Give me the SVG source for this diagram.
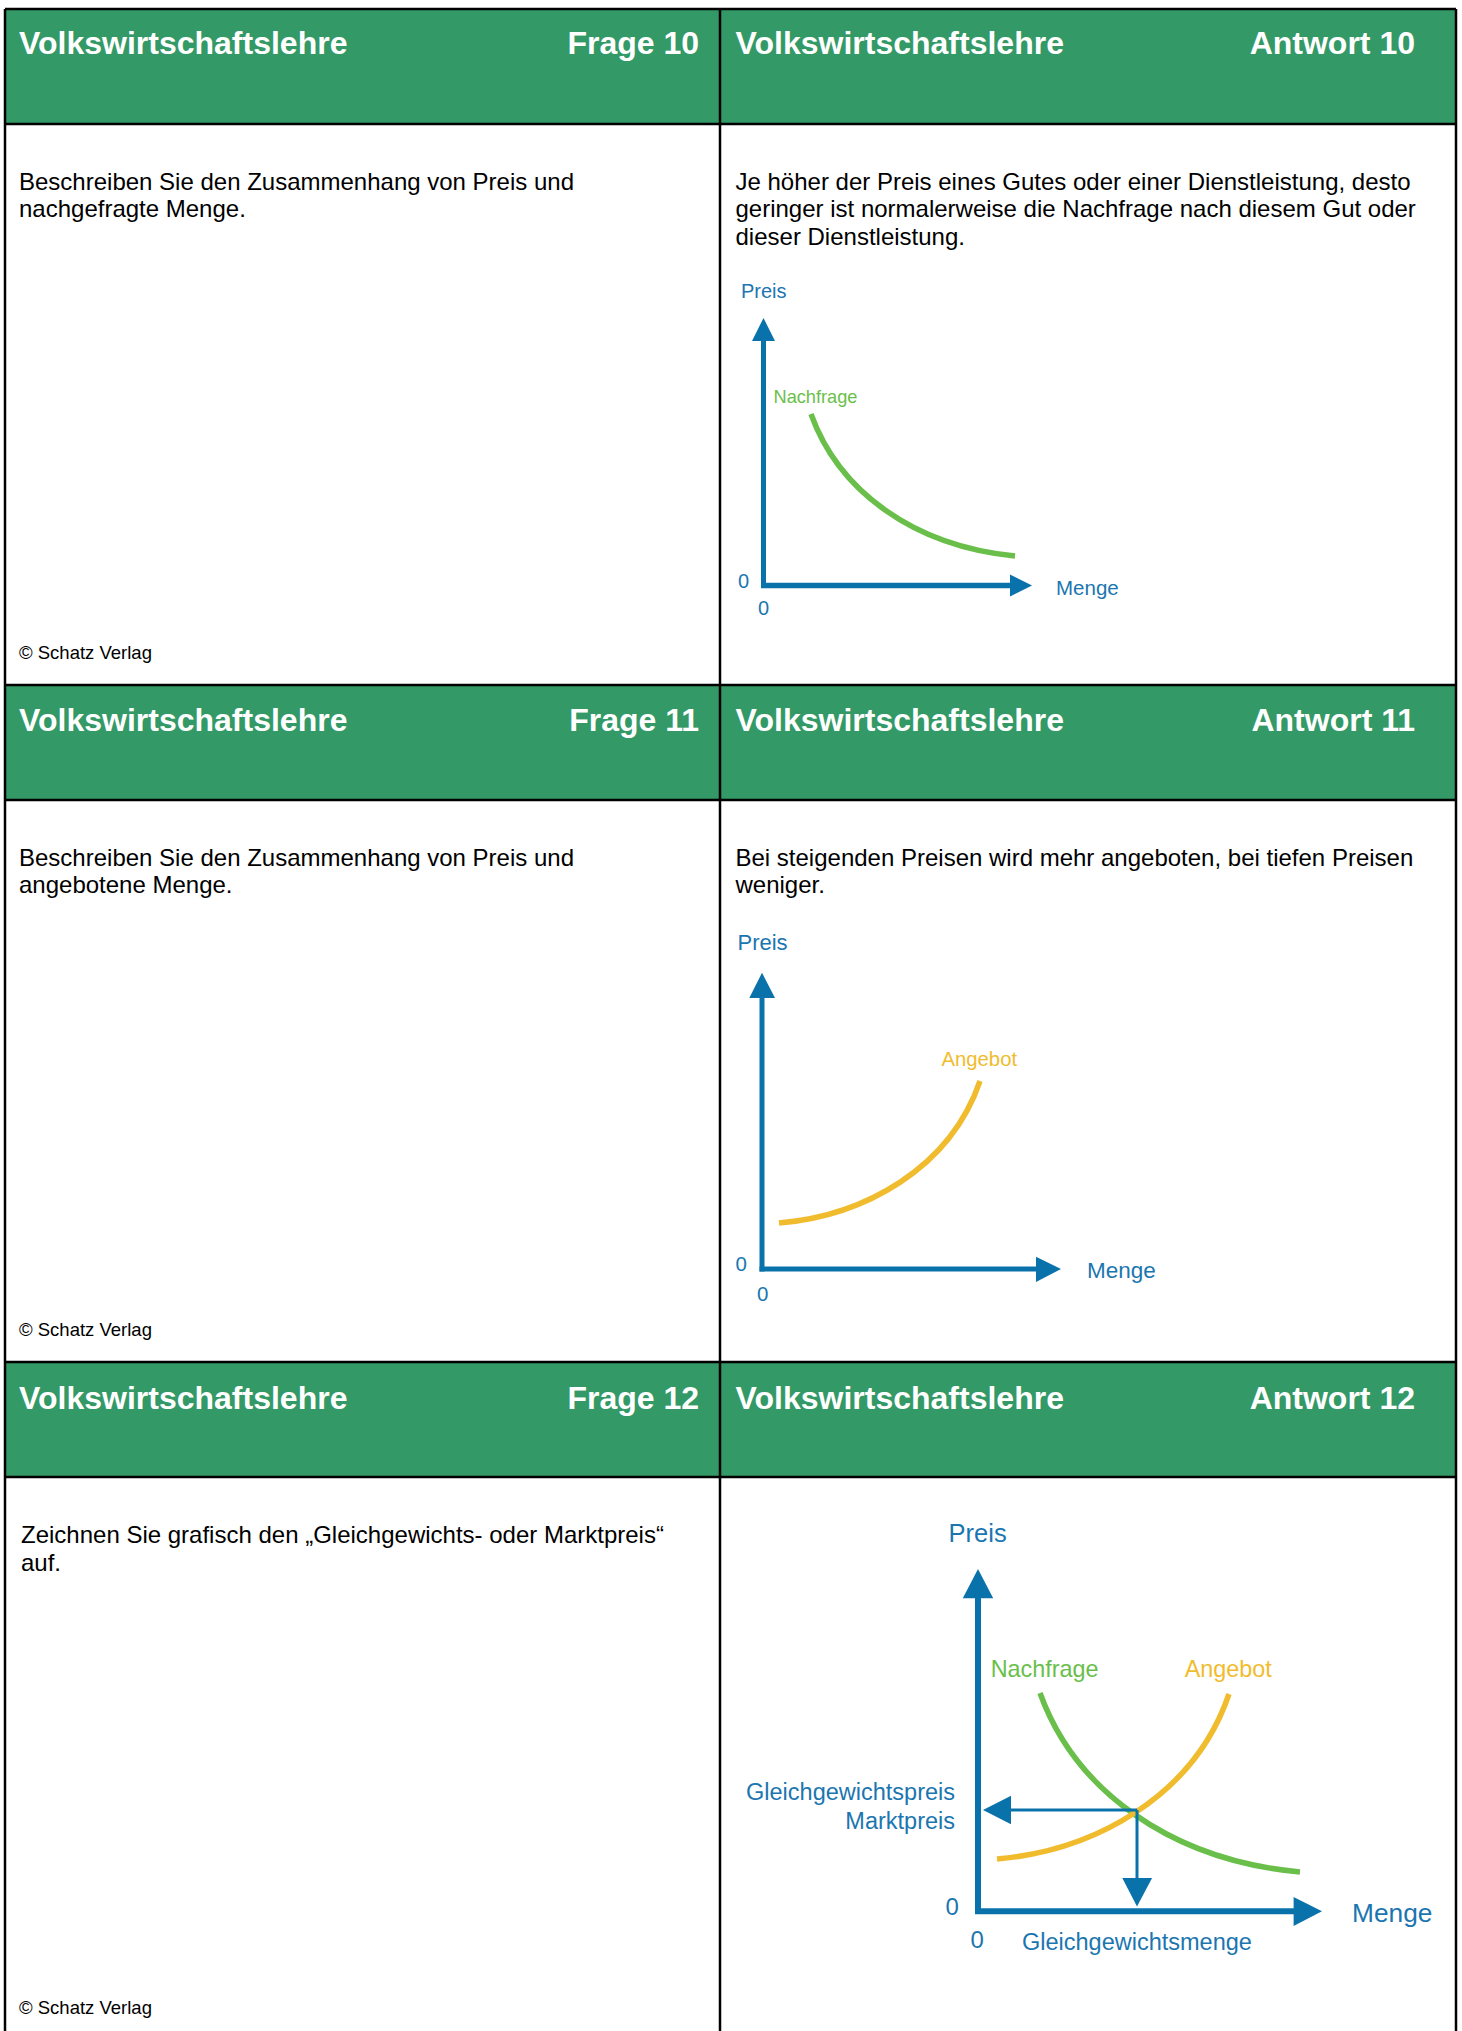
<svg xmlns="http://www.w3.org/2000/svg" width="1462" height="2031" viewBox="0 0 1462 2031">
<style>
.hdr{fill:#339966}
.ht{font-family:"Liberation Sans",Arial,sans-serif;font-size:32px;font-weight:bold;fill:#ffffff}
.bt{font-family:"Liberation Sans",Arial,sans-serif;font-size:24px;fill:#000000}
.cp{font-family:"Liberation Sans",Arial,sans-serif;font-size:18.5px;fill:#000000}
.grid{stroke:#000000;stroke-width:2.5;fill:none}
.ax{stroke:#0a72ab;fill:none}
.ah{fill:#0a72ab}
.lb{font-family:"Liberation Sans",Arial,sans-serif;fill:#1b76b0}
.gc{stroke:#6abf4b;fill:none;stroke-width:5.5}
.yc{stroke:#f0bc2e;fill:none;stroke-width:5.5}
.gl{font-family:"Liberation Sans",Arial,sans-serif;fill:#6abf4b}
.yl{font-family:"Liberation Sans",Arial,sans-serif;fill:#f0bc2e}
</style>
<rect x="0" y="0" width="1462" height="2031" fill="#ffffff"/>

<g id="headers">
<rect class="hdr" x="5" y="9" width="1451" height="115"/>
<rect class="hdr" x="5" y="685" width="1451" height="115"/>
<rect class="hdr" x="5" y="1362" width="1451" height="115"/>
</g>

<g id="card-frage-10">
<text class="ht" x="19" y="54">Volkswirtschaftslehre</text>
<text class="ht" x="699" y="54" text-anchor="end">Frage 10</text>
<text class="bt" x="19" y="189.5">Beschreiben Sie den Zusammenhang von Preis und</text>
<text class="bt" x="19" y="217.1">nachgefragte Menge.</text>
<text class="cp" x="19" y="659">© Schatz Verlag</text>
</g>

<g id="card-antwort-10">
<text class="ht" x="735.5" y="54">Volkswirtschaftslehre</text>
<text class="ht" x="1415" y="54" text-anchor="end">Antwort 10</text>
<text class="bt" x="735.5" y="189.5">Je höher der Preis eines Gutes oder einer Dienstleistung, desto</text>
<text class="bt" x="735.5" y="217.1">geringer ist normalerweise die Nachfrage nach diesem Gut oder</text>
<text class="bt" x="735.5" y="244.7">dieser Dienstleistung.</text>
<g id="chart-nachfrage">
<text class="lb" x="741" y="298" font-size="20">Preis</text>
<line class="ax" x1="763.5" y1="588" x2="763.5" y2="340" stroke-width="5"/>
<polygon class="ah" points="763.5,318 752,341 775,341"/>
<line class="ax" x1="761" y1="585.5" x2="1011" y2="585.5" stroke-width="5.5"/>
<polygon class="ah" points="1032,585.5 1010,574.5 1010,596.5"/>
<text class="lb" x="738" y="588.3" font-size="20">0</text>
<text class="lb" x="758" y="615" font-size="20">0</text>
<text class="lb" x="1056" y="595" font-size="20.5">Menge</text>
<text class="gl" x="773.5" y="403" font-size="18.2">Nachfrage</text>
<path class="gc" d="M811,414 C838.5,490.7 913,546 1015,556" stroke-width="5"/>
</g>
</g>

<g id="card-frage-11">
<text class="ht" x="19" y="731">Volkswirtschaftslehre</text>
<text class="ht" x="699" y="731" text-anchor="end">Frage 11</text>
<text class="bt" x="19" y="865.5">Beschreiben Sie den Zusammenhang von Preis und</text>
<text class="bt" x="19" y="893.1">angebotene Menge.</text>
<text class="cp" x="19" y="1336">© Schatz Verlag</text>
</g>

<g id="card-antwort-11">
<text class="ht" x="735.5" y="731">Volkswirtschaftslehre</text>
<text class="ht" x="1415" y="731" text-anchor="end">Antwort 11</text>
<text class="bt" x="735.5" y="865.5">Bei steigenden Preisen wird mehr angeboten, bei tiefen Preisen</text>
<text class="bt" x="735.5" y="893.1">weniger.</text>
<g id="chart-angebot">
<text class="lb" x="737.5" y="950" font-size="22">Preis</text>
<line class="ax" x1="762" y1="1271.5" x2="762" y2="996" stroke-width="5"/>
<polygon class="ah" points="762,972.7 749.3,998 775,998"/>
<line class="ax" x1="759.5" y1="1269" x2="1037" y2="1269" stroke-width="5"/>
<polygon class="ah" points="1061,1269 1036,1256.7 1036,1282"/>
<text class="lb" x="735.5" y="1270.5" font-size="20.5">0</text>
<text class="lb" x="757" y="1300.5" font-size="20.5">0</text>
<text class="lb" x="1087" y="1278" font-size="22.5">Menge</text>
<text class="yl" x="941.5" y="1066" font-size="20.3">Angebot</text>
<path class="yc" d="M779,1223 C863.4,1215.9 949.9,1169 980,1081" stroke-width="5"/>
</g>
</g>

<g id="card-frage-12">
<text class="ht" x="19" y="1408.5">Volkswirtschaftslehre</text>
<text class="ht" x="699" y="1408.5" text-anchor="end">Frage 12</text>
<text class="bt" x="21" y="1543">Zeichnen Sie grafisch den „Gleichgewichts- oder Marktpreis“</text>
<text class="bt" x="21" y="1570.6">auf.</text>
<text class="cp" x="19" y="2014">© Schatz Verlag</text>
</g>

<g id="card-antwort-12">
<text class="ht" x="735.5" y="1408.5">Volkswirtschaftslehre</text>
<text class="ht" x="1415" y="1408.5" text-anchor="end">Antwort 12</text>
<g id="chart-gleichgewicht">
<text class="lb" x="948.6" y="1542" font-size="25.5">Preis</text>
<line class="ax" x1="978" y1="1914" x2="978" y2="1596" stroke-width="6"/>
<polygon class="ah" points="978,1569 962.8,1598.2 993.2,1598.2"/>
<line class="ax" x1="975" y1="1911.3" x2="1295" y2="1911.3" stroke-width="6"/>
<polygon class="ah" points="1322,1911.3 1293.6,1897 1293.6,1926"/>
<text class="lb" x="945.5" y="1915" font-size="24">0</text>
<text class="lb" x="970.5" y="1948" font-size="24">0</text>
<text class="lb" x="1022" y="1950" font-size="23.5">Gleichgewichtsmenge</text>
<text class="lb" x="1352" y="1922" font-size="26.3">Menge</text>
<text class="lb" x="955" y="1800" font-size="23.5" text-anchor="end">Gleichgewichtspreis</text>
<text class="lb" x="955" y="1828.6" font-size="23.5" text-anchor="end">Marktpreis</text>
<text class="gl" x="990.7" y="1677" font-size="23.4">Nachfrage</text>
<text class="yl" x="1184.7" y="1677" font-size="23.4">Angebot</text>
<path class="gc" d="M1040,1693 C1075,1790 1170,1860 1300,1872" stroke-width="6"/>
<path class="yc" d="M997,1859 C1094.4,1850.75 1194.2,1796.3 1229,1694" stroke-width="6"/>
<line class="ax" x1="1137" y1="1810" x2="1008" y2="1810" stroke-width="3"/>
<polygon class="ah" points="983,1810 1011,1795.7 1011,1824.3"/>
<line class="ax" x1="1137" y1="1810" x2="1137" y2="1880" stroke-width="3"/>
<polygon class="ah" points="1137,1906.5 1122.3,1878 1152.1,1878"/>
</g>
</g>

<g id="grid-lines">
<line class="grid" x1="5" y1="9" x2="1456" y2="9"/>
<line class="grid" x1="5" y1="124" x2="1456" y2="124"/>
<line class="grid" x1="5" y1="685" x2="1456" y2="685"/>
<line class="grid" x1="5" y1="800" x2="1456" y2="800"/>
<line class="grid" x1="5" y1="1362" x2="1456" y2="1362"/>
<line class="grid" x1="5" y1="1477" x2="1456" y2="1477"/>
<line class="grid" x1="5" y1="9" x2="5" y2="2031"/>
<line class="grid" x1="720" y1="9" x2="720" y2="2031"/>
<line class="grid" x1="1456" y1="9" x2="1456" y2="2031"/>
</g>
</svg>
